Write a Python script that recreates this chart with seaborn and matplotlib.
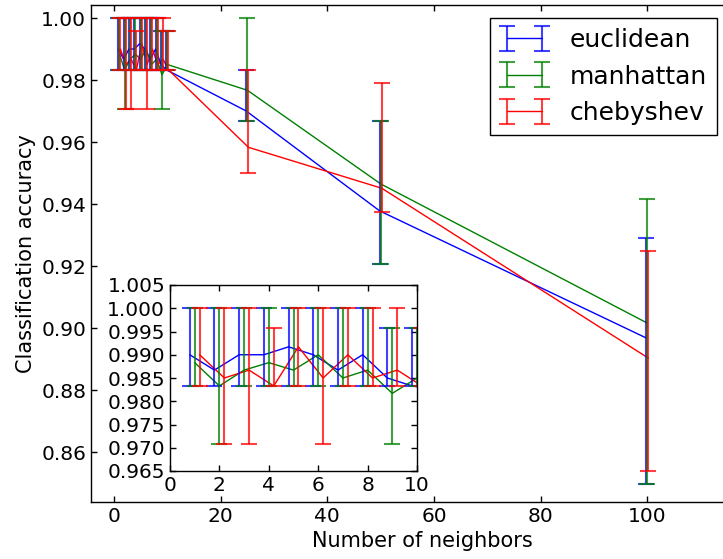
import numpy as np
import pandas as pd
import matplotlib
matplotlib.use("Agg")
import matplotlib.pyplot as plt
import matplotlib.colors as mcolors
from matplotlib.legend_handler import HandlerTuple
import seaborn as sns

# ---------------- data ----------------
neighbors = [1, 2, 3, 4, 5, 6, 7, 8, 9, 10, 25, 50, 100]
metrics = ["euclidean", "manhattan", "chebyshev"]

euclidean_mean = [0.9900, 0.9867, 0.9900, 0.9900, 0.9917, 0.9900, 0.9867, 0.9900, 0.9850, 0.9833, 0.9700, 0.9378, 0.8968]
euclidean_low = [0.9833, 0.9833, 0.9833, 0.9833, 0.9833, 0.9833, 0.9833, 0.9833, 0.9833, 0.9833, 0.9667, 0.9206, 0.8497]
euclidean_high = [1.0, 1.0, 1.0, 1.0, 1.0, 1.0, 1.0, 1.0, 0.9958, 0.9958, 0.9833, 0.9667, 0.9290]

manhattan_mean = [0.9883, 0.9833, 0.9867, 0.9883, 0.9867, 0.9900, 0.9850, 0.9867, 0.9817, 0.9850, 0.9767, 0.9465, 0.9016]
manhattan_low = [0.9833, 0.9708, 0.9833, 0.9833, 0.9833, 0.9833, 0.9833, 0.9833, 0.9708, 0.9833, 0.9667, 0.9206, 0.8497]
manhattan_high = [1.0, 1.0, 1.0, 1.0, 1.0, 1.0, 1.0, 1.0, 0.9958, 0.9958, 1.0, 0.9667, 0.9417]

chebyshev_mean = [0.9900, 0.9850, 0.9867, 0.9833, 0.9917, 0.9850, 0.9900, 0.9850, 0.9867, 0.9833, 0.9583, 0.9451, 0.8903]
chebyshev_low = [0.9833, 0.9708, 0.9708, 0.9833, 0.9833, 0.9708, 0.9833, 0.9833, 0.9833, 0.9833, 0.9500, 0.9375, 0.8540]
chebyshev_high = [1.0, 1.0, 1.0, 0.9958, 1.0, 1.0, 1.0, 1.0, 1.0, 0.9958, 0.9833, 0.9792, 0.9250]

main_yticks = [0.86, 0.88, 0.90, 0.92, 0.94, 0.96, 0.98, 1.00]
main_xticks = [0, 20, 40, 60, 80, 100]
inset_yticks = [0.965, 0.970, 0.975, 0.980, 0.985, 0.990, 0.995, 1.000, 1.005]
inset_xticks = [0, 2, 4, 6, 8, 10]

series = {
    "euclidean": (euclidean_mean, euclidean_low, euclidean_high),
    "manhattan": (manhattan_mean, manhattan_low, manhattan_high),
    "chebyshev": (chebyshev_mean, chebyshev_low, chebyshev_high),
}
x_shift = {"euclidean": -0.2, "manhattan": 0.0, "chebyshev": 0.2}
colors = {"euclidean": "#0000ff", "manhattan": "#008000", "chebyshev": "#ff0000"}

rows = []
for m in metrics:
    mu, lo, hi = series[m]
    for k, a, b, c in zip(neighbors, mu, lo, hi):
        rows.append(dict(metric=m, k=k + x_shift[m], mean=a, low=b, high=c))
df = pd.DataFrame(rows)

# ---------------- style ----------------
sns.set_style("ticks")
plt.rcParams.update({
    "font.family": ["DejaVu Sans"],
    "text.color": "black",
    "axes.labelcolor": "black",
    "xtick.direction": "in",
    "ytick.direction": "in",
    "xtick.top": True,
    "ytick.right": True,
    "xtick.major.size": 4.5,
    "ytick.major.size": 4.5,
    "xtick.major.width": 1.0,
    "ytick.major.width": 1.0,
    "xtick.labelsize": 14.5,
    "ytick.labelsize": 14.5,
    "axes.labelsize": 15,
    "axes.edgecolor": "black",
    "axes.linewidth": 1.0,
    "xtick.color": "black",
    "ytick.color": "black",
    "xtick.labelcolor": "black",
    "ytick.labelcolor": "black",
})

W, H = 723, 559
fig = plt.figure(figsize=(W / 100, H / 100), dpi=100)
ax = fig.add_axes([91 / W, 1 - 502 / H, (754 - 91) / W, (502 - 5) / H])
ins = fig.add_axes([170 / W, 1 - 471 / H, (417 - 170) / W, (471 - 285) / H])


def draw(a):
    sns.lineplot(data=df, x="k", y="mean", hue="metric", hue_order=metrics,
                 palette=colors, estimator=None, errorbar=None, legend=False,
                 ax=a, linewidth=1.0)
    ebs = {}
    for m in metrics:
        d = df[df.metric == m]
        ec = mcolors.to_rgba(colors[m], 0.75)
        ebs[m] = a.errorbar(d["k"], d["mean"],
                            yerr=[d["mean"] - d["low"], d["high"] - d["mean"]],
                            fmt="none", ecolor=ec, elinewidth=1.5,
                            capsize=6, capthick=1.5)
    return ebs


ebs = draw(ax)
main_lines = list(ax.lines[:3])
draw(ins)

ax.set_xlim(-4.32, 120)
ax.set_ylim(0.8439, 1.0042)
ax.set_xticks(main_xticks)
ax.set_yticks(main_yticks)
ax.set_yticklabels([f"{v:.2f}" for v in main_yticks])
ax.set_xlabel("Number of neighbors", color="black")
ax.set_ylabel("Classification accuracy", color="black")

ins.set_xlim(0, 10)
ins.set_ylim(0.965, 1.005)
ins.set_xticks(inset_xticks)
ins.set_yticks(inset_yticks)
ins.set_yticklabels([f"{v:.3f}" for v in inset_yticks])
ins.set_xlabel("")
ins.set_ylabel("")
ins.set_facecolor("white")

for a in (ax, ins):
    for s in a.spines.values():
        s.set_visible(True)
        s.set_color("black")
        s.set_linewidth(1.0)

handles = [(main_lines[i], ebs[m]) for i, m in enumerate(metrics)]
leg = ax.legend(handles, metrics, handler_map={tuple: HandlerTuple(ndivide=1)},
                numpoints=2, loc="upper right", fontsize=18,
                bbox_to_anchor=(717 / W, 1 - 18 / H), bbox_transform=fig.transFigure,
                borderaxespad=0, fancybox=False, framealpha=1, edgecolor="black")
leg.get_frame().set_linewidth(1.0)
for t in leg.get_texts():
    t.set_color("black")

fig.savefig("out.png", dpi=100)
